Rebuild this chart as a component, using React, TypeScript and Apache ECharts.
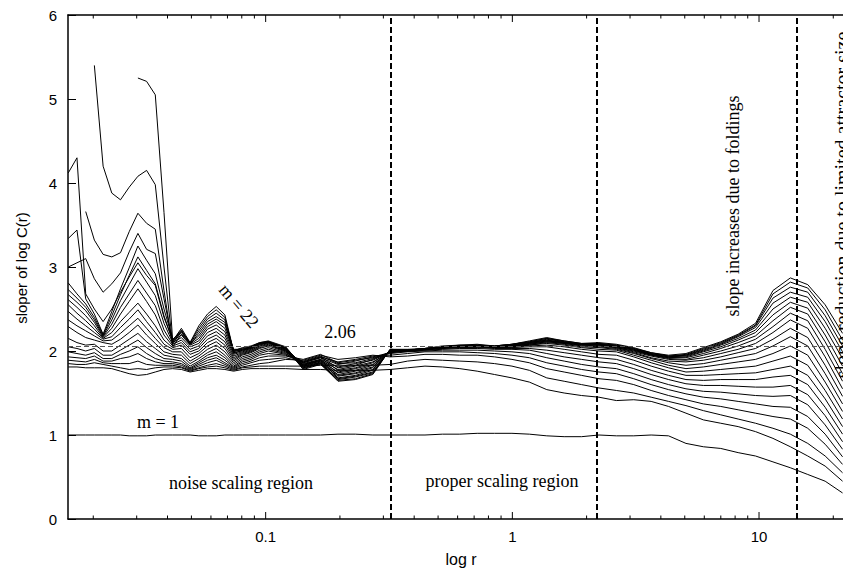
import React, { useEffect, useRef } from "react";
import * as echarts from "echarts";

// r grid (log r axis)
const R = [0.01584, 0.01718, 0.01864, 0.02021, 0.02193, 0.02378, 0.02579, 0.02797, 0.03034, 0.03291, 0.03569, 0.03871, 0.04198, 0.04554, 0.04939, 0.05357, 0.0581, 0.06302, 0.06834, 0.07412, 0.08039, 0.08718, 0.09456, 0.1025,
  0.1206, 0.1419, 0.1669, 0.1964, 0.231, 0.2718, 0.3197,
  0.3761, 0.4424, 0.5204, 0.6122, 0.7202, 0.8472, 0.9963, 1.172, 1.379, 1.622, 1.908, 2.245,
  2.641, 3.106, 3.654, 4.298, 5.056, 5.948, 6.997, 8.23, 9.681, 11.39, 13.4, 15.76, 18.54, 21.81];

const M1 = [1.00,1.00,1.00,1.00,1.00,1.00,1.00,0.99,0.99,0.99,1.00,1.00,1.00,1.00,1.00,0.99,0.99,0.99,1.00,1.00,1.00,1.00,1.00,1.00,
  1.00,1.00,1.00,1.01,1.01,1.00,1.00,
  1.00,1.00,1.01,1.01,1.02,1.02,1.02,1.01,0.99,0.98,0.98,1.00,
  0.99,0.99,1.00,0.99,0.90,0.86,0.84,0.79,0.75,0.68,0.61,0.53,0.45,0.31];
const M2 = [1.81,1.81,1.80,1.80,1.80,1.79,1.76,1.73,1.71,1.72,1.75,1.78,1.79,1.78,1.75,1.77,1.79,1.79,1.78,1.76,1.78,1.79,1.79,1.79,
  1.79,1.78,1.78,1.77,1.77,1.77,1.78,
  1.80,1.82,1.81,1.79,1.76,1.72,1.68,1.63,1.54,1.50,1.47,1.45,
  1.41,1.42,1.40,1.34,1.26,1.18,1.14,1.10,1.04,0.96,0.86,0.75,0.63,0.45];
const M3 = [1.85,1.84,1.84,1.86,1.84,1.82,1.80,1.78,1.79,1.78,1.80,1.81,1.81,1.80,1.76,1.79,1.81,1.82,1.80,1.77,1.80,1.81,1.82,1.82,
  1.82,1.82,1.83,1.83,1.83,1.83,1.84,
  1.88,1.90,1.89,1.88,1.87,1.85,1.82,1.77,1.68,1.64,1.60,1.56,
  1.53,1.50,1.45,1.40,1.35,1.29,1.24,1.19,1.14,1.08,1.01,0.90,0.75,0.55];
const M4 = [1.89,1.88,1.87,1.90,1.86,1.85,1.85,1.85,1.88,1.84,1.83,1.83,1.83,1.81,1.77,1.80,1.83,1.85,1.82,1.78,1.81,1.83,1.85,1.86,
  1.90,1.89,1.95,1.90,1.92,1.95,1.93,
  1.94,1.96,1.96,1.95,1.95,1.93,1.90,1.86,1.79,1.75,1.71,1.67,
  1.65,1.60,1.53,1.47,1.42,1.37,1.34,1.30,1.26,1.22,1.19,1.08,0.89,0.65];
const M5 = [1.93,1.92,1.91,1.94,1.88,1.88,1.91,1.93,1.97,1.91,1.87,1.85,1.85,1.83,1.78,1.82,1.86,1.89,1.84,1.79,1.83,1.86,1.89,1.90,
  1.92,1.87,1.93,1.87,1.90,1.94,1.95,
  1.97,1.99,1.99,1.99,1.98,1.97,1.95,1.92,1.86,1.82,1.78,1.75,
  1.73,1.67,1.60,1.54,1.49,1.45,1.43,1.40,1.37,1.34,1.33,1.22,1.01,0.74];
const M6 = [1.99,1.97,1.95,1.98,1.91,1.91,1.96,2.00,2.05,1.97,1.91,1.88,1.87,1.85,1.79,1.84,1.89,1.92,1.86,1.80,1.85,1.88,1.92,1.94,
  1.94,1.90,1.96,1.86,1.89,1.92,1.97,
  1.99,2.00,2.01,2.01,2.01,2.00,1.99,1.97,1.92,1.88,1.84,1.81,
  1.79,1.73,1.66,1.60,1.55,1.52,1.51,1.49,1.47,1.46,1.47,1.36,1.12,0.83];
const M7 = [2.05,2.03,2.00,2.03,1.95,1.95,2.01,2.07,2.13,2.04,1.97,1.91,1.90,1.88,1.80,1.86,1.92,1.95,1.89,1.81,1.87,1.90,1.95,1.97,
  1.95,1.86,1.92,1.84,1.88,1.93,1.98,
  2.00,2.01,2.02,2.03,2.03,2.02,2.02,2.01,1.97,1.93,1.90,1.87,
  1.85,1.79,1.72,1.66,1.61,1.59,1.59,1.58,1.57,1.57,1.59,1.48,1.23,0.92];
const M8 = [2.15,2.10,2.07,2.08,2.00,2.00,2.07,2.14,2.21,2.11,2.03,1.95,1.93,1.91,1.82,1.88,1.95,1.99,1.92,1.82,1.89,1.92,1.97,2.00,
  1.96,1.88,1.94,1.85,1.86,1.91,1.98,
  2.00,2.01,2.03,2.04,2.04,2.03,2.03,2.03,2.01,1.98,1.95,1.92,
  1.90,1.84,1.77,1.71,1.66,1.65,1.66,1.66,1.66,1.69,1.71,1.60,1.33,1.01];
const M9 = [2.29,2.22,2.16,2.13,2.10,2.08,2.14,2.22,2.31,2.19,2.09,1.99,1.96,1.95,1.85,1.91,1.98,2.03,1.95,1.84,1.91,1.94,1.99,2.02,
  1.97,1.84,1.90,1.81,1.85,1.89,1.99,
  2.00,2.02,2.03,2.04,2.05,2.04,2.04,2.05,2.05,2.02,1.99,1.96,
  1.95,1.89,1.82,1.76,1.71,1.71,1.72,1.73,1.74,1.78,1.82,1.71,1.43,1.10];
const M10 = [2.37,2.30,2.24,2.18,2.12,2.13,2.21,2.30,2.39,2.27,2.15,2.04,1.99,1.99,1.88,1.94,2.02,2.07,1.99,1.86,1.93,1.96,2.01,2.04,
  1.98,1.87,1.93,1.80,1.83,1.90,1.99,
  2.01,2.02,2.04,2.05,2.05,2.04,2.05,2.06,2.07,2.05,2.02,2.00,
  1.99,1.93,1.86,1.80,1.75,1.76,1.78,1.80,1.82,1.88,1.94,1.83,1.53,1.19];
const M11 = [2.47,2.38,2.30,2.22,2.14,2.17,2.28,2.38,2.49,2.35,2.22,2.08,2.02,2.03,1.92,1.97,2.06,2.11,2.03,1.88,1.95,1.98,2.03,2.06,
  1.99,1.83,1.89,1.78,1.82,1.87,1.99,
  2.01,2.02,2.04,2.05,2.05,2.04,2.05,2.07,2.09,2.07,2.04,2.02,
  2.01,1.95,1.89,1.83,1.79,1.81,1.84,1.87,1.90,1.97,2.06,1.95,1.63,1.28];
const M12 = [2.55,2.45,2.36,2.26,2.15,2.22,2.35,2.46,2.57,2.44,2.30,2.13,2.04,2.07,1.96,2.00,2.10,2.15,2.07,1.90,1.96,1.99,2.04,2.07,
  2.00,1.86,1.92,1.77,1.80,1.86,2.00,
  2.01,2.02,2.04,2.05,2.06,2.04,2.05,2.07,2.10,2.08,2.05,2.04,
  2.02,1.97,1.91,1.86,1.83,1.85,1.89,1.93,1.97,2.06,2.17,2.06,1.73,1.37];
const M13 = [2.61,2.52,2.42,2.30,2.16,2.27,2.44,2.59,2.74,2.59,2.43,2.19,2.06,2.10,1.99,2.03,2.14,2.19,2.11,1.92,1.97,2.00,2.05,2.08,
  2.00,1.82,1.88,1.75,1.79,1.84,2.00,
  2.01,2.03,2.04,2.05,2.06,2.05,2.06,2.08,2.11,2.09,2.06,2.05,
  2.03,1.98,1.92,1.88,1.87,1.89,1.93,1.98,2.03,2.14,2.27,2.16,1.83,1.46];
const M14 = [2.67,2.58,2.48,2.34,2.17,2.32,2.52,2.68,2.84,2.69,2.54,2.25,2.08,2.13,2.02,2.06,2.18,2.23,2.15,1.94,1.98,2.01,2.06,2.09,
  2.01,1.85,1.90,1.74,1.77,1.83,2.00,
  2.01,2.03,2.04,2.06,2.06,2.05,2.06,2.08,2.11,2.09,2.07,2.06,
  2.04,1.99,1.94,1.90,1.89,1.92,1.97,2.02,2.09,2.22,2.37,2.27,1.93,1.55];
const M15 = [2.73,2.63,2.52,2.37,2.18,2.37,2.60,2.79,2.98,2.82,2.66,2.33,2.10,2.16,2.05,2.09,2.22,2.27,2.19,1.96,1.99,2.02,2.07,2.10,
  2.01,1.81,1.87,1.72,1.76,1.81,2.00,
  2.00,2.02,2.04,2.06,2.06,2.05,2.06,2.09,2.12,2.10,2.07,2.07,
  2.04,2.00,1.95,1.91,1.90,1.95,2.00,2.06,2.14,2.29,2.45,2.36,2.02,1.64];
const M16 = [2.81,2.68,2.56,2.40,2.19,2.42,2.67,2.90,3.12,2.96,2.80,2.42,2.12,2.19,2.07,2.12,2.26,2.31,2.23,1.98,2.00,2.03,2.08,2.10,
  2.02,1.84,1.89,1.71,1.74,1.80,2.01,
  2.00,2.02,2.04,2.06,2.06,2.05,2.06,2.09,2.12,2.10,2.08,2.07,
  2.05,2.01,1.95,1.92,1.92,1.97,2.03,2.10,2.18,2.36,2.52,2.44,2.11,1.73];
const M17 = [3.34,3.44,2.62,2.44,2.20,2.47,2.74,2.99,3.25,3.08,2.92,2.50,2.14,2.22,2.08,2.15,2.29,2.35,2.27,2.00,2.01,2.04,2.09,2.11,
  2.02,1.80,1.86,1.70,1.73,1.78,2.01,
  2.00,2.02,2.05,2.06,2.06,2.05,2.07,2.10,2.13,2.10,2.08,2.08,
  2.05,2.01,1.96,1.92,1.93,1.99,2.05,2.13,2.22,2.43,2.58,2.51,2.19,1.82];
const M18 = [3.00,3.05,3.10,2.86,2.70,2.80,2.93,3.18,3.40,3.21,3.16,2.62,2.10,2.24,2.09,2.18,2.32,2.38,2.31,2.02,2.02,2.05,2.09,2.11,
  2.03,1.83,1.88,1.68,1.71,1.77,2.01,
  2.00,2.02,2.05,2.06,2.06,2.05,2.07,2.10,2.13,2.10,2.08,2.08,
  2.06,2.02,1.96,1.93,1.94,2.00,2.07,2.15,2.25,2.50,2.64,2.58,2.27,1.91];
const M19 = [null,null,3.66,3.32,3.15,3.12,3.17,3.42,3.64,3.52,3.45,2.72,2.05,2.20,2.08,2.21,2.35,2.41,2.34,1.97,2.01,2.03,2.08,2.10,
  2.03,1.79,1.85,1.67,1.70,1.75,2.01,
  2.01,2.02,2.05,2.06,2.07,2.05,2.07,2.10,2.14,2.11,2.08,2.08,
  2.06,2.02,1.97,1.93,1.95,2.01,2.08,2.17,2.28,2.57,2.70,2.64,2.35,1.99];
const M20 = [4.12,4.30,2.68,2.50,2.35,2.50,2.70,2.88,3.05,2.90,2.78,2.40,2.13,2.25,2.09,2.24,2.38,2.45,2.37,2.01,2.03,2.05,2.10,2.11,
  2.04,1.82,1.86,1.66,1.69,1.74,2.02,
  2.01,2.03,2.05,2.06,2.07,2.06,2.08,2.11,2.15,2.11,2.08,2.09,
  2.07,2.03,1.97,1.94,1.95,2.02,2.09,2.18,2.30,2.63,2.76,2.70,2.42,2.06];
const M21 = [null,null,null,5.40,4.20,3.88,3.80,3.95,4.08,4.15,3.98,3.00,2.08,2.23,2.10,2.27,2.41,2.49,2.40,1.99,2.02,2.04,2.09,2.11,
  2.04,1.78,1.84,1.65,1.67,1.73,2.02,
  2.01,2.03,2.05,2.07,2.07,2.06,2.08,2.11,2.15,2.12,2.09,2.09,
  2.07,2.03,1.98,1.94,1.96,2.03,2.10,2.19,2.31,2.68,2.82,2.75,2.49,2.13];
const M22 = [null,null,null,null,null,null,null,null,5.25,5.21,5.05,3.65,2.12,2.27,2.10,2.30,2.44,2.53,2.43,2.00,2.04,2.06,2.10,2.12,
  2.05,1.80,1.85,1.64,1.66,1.72,2.02,
  2.02,2.03,2.06,2.07,2.08,2.06,2.08,2.12,2.16,2.12,2.09,2.10,
  2.08,2.04,1.98,1.95,1.97,2.04,2.11,2.20,2.33,2.72,2.87,2.79,2.55,2.21];

const CURVES = [M1, M2, M3, M4, M5, M6, M7, M8, M9, M10, M11, M12, M13, M14, M15, M16, M17, M18, M19, M20, M21, M22];

const X_MIN = 0.0158;
const X_MAX = 21.9;
const MAJOR_TICKS = [0.1, 1, 10];
const MINOR_TICKS = [0.02, 0.03, 0.04, 0.05, 0.06, 0.07, 0.08, 0.09, 0.2, 0.3, 0.4, 0.5, 0.6, 0.7, 0.8, 0.9, 2, 3, 4, 5, 6, 7, 8, 9, 20];
const REF_LEVEL = 2.06;
const REGION_BOUNDS = [0.324, 2.19, 14.2];

const SANS = "'Liberation Sans', Arial, sans-serif";
const SERIF = "'Liberation Serif', 'Times New Roman', serif";

function tickRender(len: number) {
  return (params: any, api: any) => {
    const r = api.value(0);
    const b = api.coord([r, 0]);
    const t = api.coord([r, 6]);
    return {
      type: "group",
      children: [
        { type: "line", shape: { x1: b[0], y1: b[1], x2: b[0], y2: b[1] - len }, style: { stroke: "#000", lineWidth: 1 } },
        { type: "line", shape: { x1: t[0], y1: t[1], x2: t[0], y2: t[1] + len }, style: { stroke: "#000", lineWidth: 1 } },
      ],
    };
  };
}

function label(text: string, x: number, y: number, size: number, family: string, rotation = 0) {
  return {
    type: "text",
    x,
    y,
    rotation,
    silent: true,
    z: 20,
    style: { text, fontSize: size, fontFamily: family, fill: "#000", align: "center", verticalAlign: "middle" },
  };
}

export default function App() {
  const ref = useRef<HTMLDivElement>(null);

  useEffect(() => {
    if (!ref.current) return;
    const chart = echarts.init(ref.current, undefined, { renderer: "svg" });

    const lineSeries: any[] = CURVES.map((vals, k) => ({
      type: "line",
      name: "m = " + (k + 1),
      data: R.map((r, i) => [r, vals[i]]),
      symbol: "none",
      showSymbol: false,
      connectNulls: false,
      silent: true,
      z: 3,
      lineStyle: { color: "#000", width: 1 },
    }));

    lineSeries[0].markLine = {
      silent: true,
      symbol: ["none", "none"],
      label: { show: false },
      animation: false,
      data: [
        { yAxis: REF_LEVEL, lineStyle: { color: "#555", width: 1, type: [5, 3] } },
        ...REGION_BOUNDS.map((v) => ({ xAxis: v, lineStyle: { color: "#000", width: 2, type: [6, 3] } })),
      ],
    };

    const option: any = {
      animation: false,
      backgroundColor: "#fff",
      grid: { left: 68, right: 0, top: 15, bottom: 50, containLabel: false, outerBoundsMode: "none" },
      xAxis: [
        {
          type: "log",
          logBase: 10,
          min: X_MIN,
          max: X_MAX,
          position: "bottom",
          axisLine: { show: true, lineStyle: { color: "#000", width: 1.5 } },
          axisTick: { show: false },
          splitLine: { show: false },
          minorTick: { show: false },
          axisLabel: {
            color: "#000",
            fontSize: 15,
            fontFamily: SANS,
            margin: 10,
            formatter: (v: number) => {
              const l = Math.log10(v);
              return Math.abs(l - Math.round(l)) < 1e-6 ? String(Number(v.toPrecision(6))) : "";
            },
          },
        },
        {
          type: "log",
          logBase: 10,
          min: X_MIN,
          max: X_MAX,
          position: "top",
          axisLine: { show: true, lineStyle: { color: "#000", width: 1.5 } },
          axisTick: { show: false },
          axisLabel: { show: false },
          splitLine: { show: false },
        },
      ],
      yAxis: {
        type: "value",
        min: 0,
        max: 6,
        interval: 1,
        axisLine: { show: true, lineStyle: { color: "#000", width: 1.5 } },
        axisTick: { show: true, inside: true, length: 8, lineStyle: { color: "#000", width: 1 } },
        splitLine: { show: false },
        axisLabel: { color: "#000", fontSize: 15, fontFamily: SANS, margin: 11 },
      },
      series: [
        ...lineSeries,
        {
          type: "custom",
          name: "major ticks",
          silent: true,
          clip: false,
          z: 5,
          data: MAJOR_TICKS.map((v) => [v, 0]),
          renderItem: tickRender(7),
        },
        {
          type: "custom",
          name: "minor ticks",
          silent: true,
          clip: false,
          z: 5,
          data: MINOR_TICKS.map((v) => [v, 0]),
          renderItem: tickRender(3.5),
        },
      ],
      graphic: {
        elements: [
          label("sloper of log C(r)", 21, 268, 15, SANS, Math.PI / 2),
          label("log r", 461, 559, 16, SANS),
          label("2.06", 340, 332, 18, SERIF),
          label("m = 1", 158, 422, 18, SERIF),
          label("m = 22", 239, 306, 18, SERIF, -0.87),
          label("noise scaling region", 241, 483, 18, SERIF),
          label("proper scaling region", 502, 481, 18, SERIF),
          label("slope increases due to foldings", 733, 206, 18, SERIF, Math.PI / 2),
          label("slope reduction due to limited attractor size", 842, 205, 20, SERIF, Math.PI / 2),
        ],
      },
    };

    chart.setOption(option);
    return () => chart.dispose();
  }, []);

  return (
    <div
      ref={ref}
      style={{ position: "absolute", left: 0, top: 0, width: 843, height: 569, background: "#fff" }}
    />
  );
}
